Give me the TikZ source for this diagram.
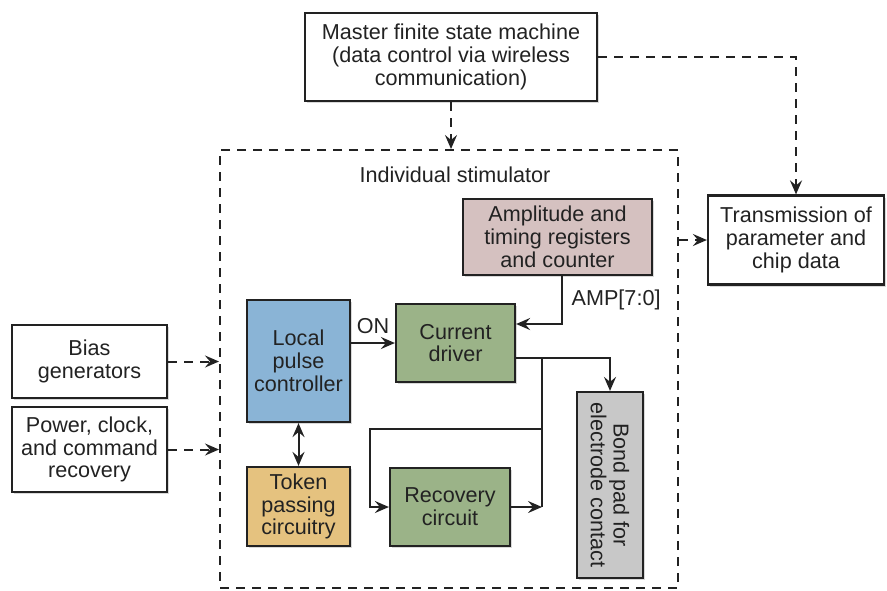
\documentclass[tikz,border=0pt]{standalone}
\usepackage{fontspec}
\setmainfont{Liberation Sans}
\usetikzlibrary{arrows.meta,shadows}
\definecolor{pulseblue}{HTML}{8AB4D6}
\definecolor{drivegreen}{HTML}{9BB388}
\definecolor{regpink}{HTML}{D5C1C0}
\definecolor{tokenorange}{HTML}{E5C27F}
\definecolor{padgray}{HTML}{C8C8C8}
\definecolor{ink}{HTML}{222222}
\begin{document}
\begin{tikzpicture}[x=0.5pt,y=-0.5pt,
  font=\fontsize{10.8}{11.4}\selectfont, text=ink,
  blk/.style={draw=ink, line width=1.1pt, fill=white, align=center, inner sep=0pt,
    drop shadow={shadow xshift=1pt,shadow yshift=-1pt,opacity=0.3}},
  wire/.style={draw=ink, line width=1pt},
  tip/.tip={Stealth[length=7pt,width=6pt,inset=2.5pt]},
  arr/.style={wire, -tip},
  dasharr/.style={arr, dash pattern=on 4.5pt off 3.5pt},
  frame/.style={draw=ink, line width=1pt, dash pattern=on 4.5pt off 3.5pt}]
\useasboundingbox (0,0) rectangle (887,590);

% stimulator frame
\node[frame, minimum width=229pt, minimum height=219pt] (stim) at (449,369) {};
\node (stimlabel) at (455,175) {Individual stimulator};

% outside blocks
\node[blk, minimum width=146pt, minimum height=44pt] (master) at (451,57)
  {Master finite state machine\\(data control via wireless\\communication)};
\node[blk, minimum width=88pt, minimum height=44.5pt] (trans) at (796,240)
  {Transmission of\\parameter and\\chip data};
\node[blk, minimum width=77.5pt, minimum height=36.5pt] (bias) at (89.5,361.5)
  {Bias\\generators};
\node[blk, minimum width=77.5pt, minimum height=42.5pt] (power) at (89.5,449.5)
  {Power, clock,\\and command\\recovery};

% inside blocks
\node[blk, fill=regpink, minimum width=94.5pt, minimum height=38pt] (amp) at (557.5,237)
  {Amplitude and\\timing registers\\and counter};
\node[blk, fill=drivegreen, minimum width=59.5pt, minimum height=39pt] (cur) at (455.5,343)
  {Current\\driver};
\node[blk, fill=pulseblue, minimum width=51.5pt, minimum height=61pt] (lpc) at (298.5,361)
  {Local\\pulse\\controller};
\node[blk, fill=tokenorange, minimum width=51.5pt, minimum height=39.5pt] (tok) at (298.5,506.5)
  {Token\\passing\\circuitry};
\node[blk, fill=drivegreen, minimum width=60pt, minimum height=39pt] (rec) at (450,507)
  {Recovery\\circuit};
\node[blk, fill=padgray, minimum width=33pt, minimum height=93pt] (bond) at (610,485) {};
\node[rotate=-90, align=center] (bondtext) at (bond.center) {Bond pad for\\electrode contact};

\coordinate (split) at (542,358);
\coordinate (tap) at (542,429);
\coordinate (loop) at (370,429);

% dashed links
\path[dasharr] (master.south) -- (master.south |- stim.north);
\path[dasharr] (master.east) -| (trans.north);
\path[dasharr] (stim.east |- trans.west) -- (trans.west);
\path[dasharr] (bias.east) -- (bias.east -| stim.west);
\path[dasharr] (power.east) -- (power.east -| stim.west);

% signal links
\path[arr] ([xshift=2.25pt]amp.south) |- node[pos=0.25, right, xshift=1pt] {AMP[7:0]} ([yshift=9.5pt]cur.east);
\path[arr] (lpc.east |- cur.west) -- node[above, yshift=1pt] {ON} (cur.west);
\path[wire, tip-tip] (lpc.south) -- (tok.north);
\path[wire] ([yshift=-7.5pt]cur.east) -- (split);
\path[arr] (split) -| (bond.north);
\path[wire] (split) -- (split |- rec.east);
\path[arr] (rec.east) -- (rec.east -| split);
\path[arr] (tap) -- (loop) |- (rec.west);
\end{tikzpicture}
\end{document}
